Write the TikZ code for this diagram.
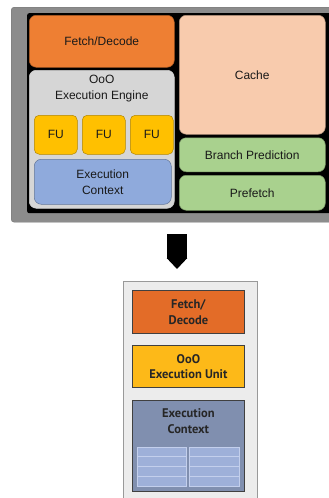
\documentclass[tikz,border=0pt]{standalone}
\usepackage{fontspec}
\setmainfont{Liberation Sans}
\newfontfamily\boldsans{PT Sans}
\usetikzlibrary{arrows.meta,positioning}
\definecolor{fetchorange}{HTML}{EE7F33}
\definecolor{enggray}{HTML}{D6D6D6}
\definecolor{fuyellow}{HTML}{FFC000}
\definecolor{ctxblue}{HTML}{8FAADC}
\definecolor{cachepeach}{HTML}{F8CBAD}
\definecolor{bpgreen}{HTML}{A9D18E}
\definecolor{chipgray}{HTML}{8C8C8C}
\definecolor{panelgray}{HTML}{ECECEC}
\definecolor{unitorange}{HTML}{E36C28}
\definecolor{unityellow}{HTML}{FDB918}
\definecolor{unitslate}{HTML}{808FAF}
\definecolor{cellblue}{HTML}{9EB0D9}
\definecolor{cellline}{HTML}{C3CFEC}
\tikzset{
  wh/.style 2 args={minimum width=#1pt,minimum height=#2pt},
  blk/.style={draw=#1!70!black,fill=#1,rounded corners=7pt,line width=0.5pt,
    anchor=north west,inner sep=0pt,align=center,text=black!90,
    font=\fontsize{12}{16}\selectfont},
  fublk/.style={blk=fuyellow,rounded corners=5pt,wh={43}{39}},
  txt/.style={inner sep=0pt,align=center,text=black!90,font=\fontsize{12}{16}\selectfont},
  unit/.style={draw=black!75,fill=#1,line width=0.8pt,anchor=north west,
    inner sep=0pt,align=center,text=black!85,
    font=\boldsans\bfseries\fontsize{12.5}{15.5}\selectfont},
  utxt/.style={inner sep=0pt,align=center,text=black!85,
    font=\boldsans\bfseries\fontsize{12.5}{15.5}\selectfont},
  cell/.style={draw=cellline,fill=cellblue,line width=0.6pt},
  bigarrow/.style={line width=20pt,-{Triangle[length=11pt,width=20pt]}}
}
\begin{document}
\begin{tikzpicture}[x=1pt,y=-1pt]
\useasboundingbox (0,0) rectangle (329,498);
% chip with its blocks
\node[draw=black!55,fill=chipgray,rounded corners=3pt,anchor=north west,wh={330}{215},inner sep=0pt] (chip) at (11,7) {};
\node[fill=black,rounded corners=2pt,anchor=north west,wh={315}{200},inner sep=0pt] (die) at (27,13) {};
\node[blk=fetchorange,wh={145}{52}] (fetch) at (29,15) {Fetch/Decode};
\node[blk=enggray,draw=white!80!black,wh={145}{138}] (engine) at (29,70) {};
\node[txt,below=5pt of engine.north] (engtxt) {OoO\\Execution Engine};
\node[fublk] (fua) at (34,115) {FU};
\node[fublk,right=4.5pt of fua] (fub) {FU};
\node[fublk,right=4.5pt of fub] (fuc) {FU};
\node[blk=ctxblue,wh={137}{45}] (ctx) at (34,159) {Execution\\Context};
\node[blk=cachepeach,wh={146}{119}] (cache) at (179,15) {Cache};
\node[blk=bpgreen,wh={146}{34},below=3pt of cache] (bpred) {Branch Prediction};
\node[blk=bpgreen,wh={146}{35},below=3pt of bpred] (prefetch) {Prefetch};
% arrow down to the simple core
\coordinate (arrtop) at (177,234);
\coordinate (arrtip) at (177,269);
\draw[bigarrow] (arrtop) -- (arrtip);
% simple core
\node[draw=black!40,fill=panelgray,line width=0.8pt,anchor=north west,wh={134}{230},inner sep=0pt] (panel) at (123,281) {};
\node[unit=unitorange,wh={112}{43}] (ufetch) at (132,290) {Fetch/\\Decode};
\node[unit=unityellow,wh={112}{42}] (uooo) at (132,345) {OoO\\Execution Unit};
\node[unit=unitslate,wh={112}{91}] (uctx) at (132,400) {};
\node[utxt,below=8.5pt of uctx.north] (uctxtxt) {Execution\\Context};
\foreach \gx/\gw in {137/49,189/50}
  \foreach \gy in {447,456.75,466.5,476.25}
    \draw[cell] (\gx,\gy) rectangle ++(\gw,9.75);
\end{tikzpicture}
\end{document}
